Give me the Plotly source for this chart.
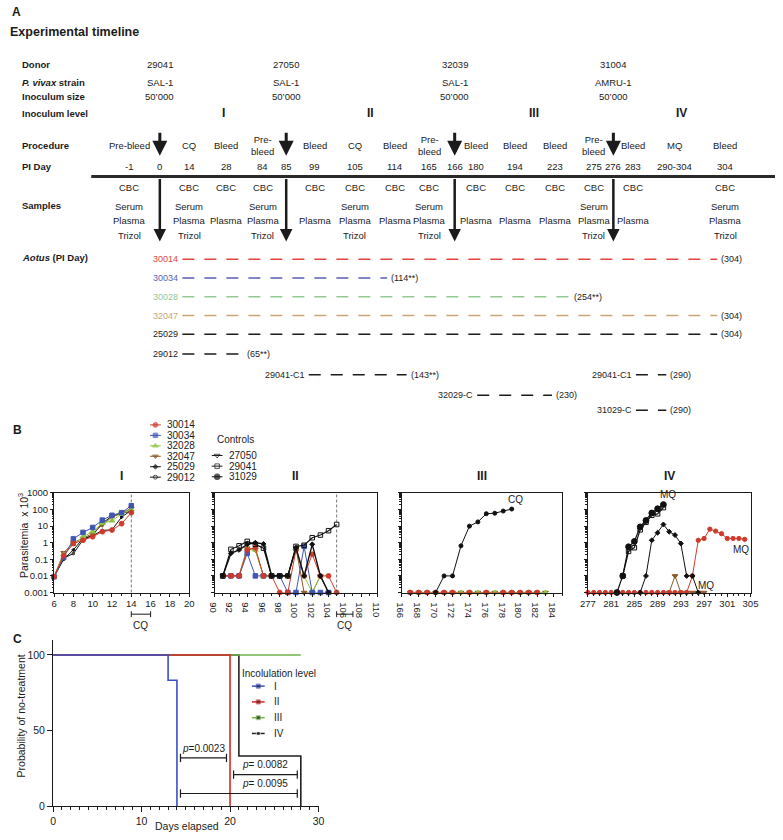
import numpy as np
import plotly.graph_objects as go

W, H = 783, 840
FONT = "Liberation Sans, Arial, Helvetica, sans-serif"
INK = "#1b1b1b"

# ---------------- A: experimental timeline ----------------
donors = ["29041", "27050", "32039", "31004"]
strains = ["SAL-1", "SAL-1", "SAL-1", "AMRU-1"]
inoculum_sizes = ["50’000", "50’000", "50’000", "50’000"]
inoculum_levels = ["I", "II", "III", "IV"]

pi_days = ["-1", "0", "14", "28", "84", "85", "99", "105", "114", "165", "166",
           "180", "194", "223", "275", "276", "283", "290-304", "304"]
procedures = ["Pre-bleed", "", "CQ", "Bleed", "Pre-<br>bleed", "", "Bleed", "CQ", "Bleed",
              "Pre-<br>bleed", "", "Bleed", "Bleed", "Bleed", "Pre-<br>bleed", "", "Bleed",
              "MQ", "Bleed"]
FULL = ["CBC", "Serum", "Plasma", "Trizol"]
SHORT = ["CBC", "Plasma"]
samples = [FULL, [], FULL, SHORT, FULL, [], SHORT, FULL, SHORT, FULL, [], SHORT, SHORT,
           SHORT, FULL, [], SHORT, [], FULL]

aotus_ids = ["30014", "30034", "30028", "32047", "25029", "29012",
             "29041-C1", "29041-C1", "32029-C", "31029-C"]
aotus_first_day = [0, 0, 0, 0, 0, 0, 85, 276, 166, 276]
aotus_last_day = [304, 114, 254, 304, 304, 65, 143, 290, 230, 290]
aotus_last_note = ["(304)", "(114**)", "(254**)", "(304)", "(304)", "(65**)",
                   "(143**)", "(290)", "(230)", "(290)"]

# ---------------- B: parasitemia (x10^3) ----------------
days_I = [6, 7, 8, 9, 10, 11, 12, 13, 14]
I_30014 = [0.009, 0.17, 0.9, 1.4, 2.3, 4.6, 5.8, 14, 65]
I_30034 = [0.009, 0.13, 1.7, 4.2, 8.3, 23, 45, 65, 170]
I_32028 = [0.009, 0.2, 0.8, 2.3, 4.6, 15, 21, 55, 100]
I_32047 = [0.009, 0.25, 1.0, 1.8, 3.5, 12, 35, 60, 120]
I_25029 = [0.009, 0.1, 0.37, 1.8, 2.6, 5.5, 6, 35, 90]
I_29012 = [0.009, 0.12, 0.22, 1.5, 2.8, 15, 40, 60, 80]

days_II = [91, 92, 93, 94, 95, 96, 97, 98, 99, 100, 101, 102, 103, 104, 105]
II_30014 = [0.01, 0.01, 0.01, 0.37, 0.5, 0.01, 0.01, 0.001, 0.001, 0.37, 0.01, 0.2, 0.01, 0.01, 0.001]
II_30034 = [0.01, 0.01, 0.01, 0.23, 0.01, 0.01, 0.01, 0.01, 0.001, 0.001, 0.6, 0.001, 0.001, 0.001, None]
II_32028 = [0.01, 0.01, 0.01, 0.47, 0.37, 0.01, 0.01, 0.01, 0.01, 0.47, 0.01, 0.001, 0.01, 0.001, None]
II_32047 = [0.01, 0.01, 0.01, 0.47, 0.37, 0.01, 0.01, 0.01, 0.01, 0.47, 0.001, 0.001, 0.01, 0.001, None]
II_25029 = [0.01, 0.23, 0.37, 0.8, 1.0, 0.85, 0.01, 0.01, 0.01, 0.5, 0.01, 0.8, 0.01, 0.001, None]
II_29041 = [0.01, 0.4, 0.65, 1.2, 0.8, 0.47, 0.01, 0.01, 0.01, 0.6, 0.7, 2.0, 2.9, 5.3, 12.6]

days_III = [167, 168, 169, 170, 171, 172, 173, 174, 175, 176, 177, 178, 179, 180, 181, 182, 183]
III_32028 = [0.001] * 17
III_32047 = [0.001] * 17
days_III_30014 = [167, 168, 169, 170, 171, 172, 174, 176, 178, 179, 180, 181, 182]
III_30014 = [0.001] * 13
days_III_ctrl = [170, 171, 172, 173, 174, 175, 176, 177, 178, 179]
III_ctrl = [0.001, 0.01, 0.01, 0.65, 10, 18, 56, 60, 81, 107]

days_IV_31029 = [282, 283, 284, 285, 286, 287, 288, 289, 290]
IV_31029 = [0.001, 0.01, 0.57, 1.2, 9, 22, 62, 112, 200]
days_IV_29041 = [283, 284, 285, 286, 287, 288, 289, 290]
IV_29041 = [0.01, 0.3, 0.5, 6, 17, 45, 55, 130]
days_IV_25029 = [286, 287, 288, 289, 290, 291, 292, 293, 294, 295, 296]
IV_25029 = [0.001, 0.01, 1.4, 4, 12.6, 4.6, 2.9, 0.9, 0.01, 0.01, 0.001]
days_IV_30014 = list(range(277, 305))
IV_30014 = [0.001] * 18 + [0.01, 1.4, 1.8, 6.6, 5, 3.5, 1.8, 1.8, 1.8, 1.6]
days_IV_32047 = [291, 292, 293, 294, 295, 296, 297]
IV_32047 = [0.001, 0.01, 0.001, 0.001, 0.001, 0.001, 0.001]

legend_exp = ["30014", "30034", "32028", "32047", "25029", "29012"]
legend_ctrl = ["27050", "29041", "31029"]

# ---------------- C: probability of no-treatment ----------------
km_levels = ["I", "II", "III", "IV"]
km_days = [[0, 13, 14], [0, 20], [0, 28], [0, 21, 28]]
km_prob = [[100, 83.3, 0], [100, 0], [100, 100], [100, 33.3, 0]]
p_labels = ["<i>p</i>=0.0023", "<i>p</i>= 0.0082", "<i>p</i>= 0.0095"]
p_from = [14.4, 20.4, 14.4]
p_to = [19.6, 27.6, 27.6]

# ---------------- styles / layout constants ----------------
styles = {
    "30014": dict(color="#cf3a2c", symbol="circle", size=4.8),
    "30034": dict(color="#3f56b4", symbol="square", size=4.5),
    "32028": dict(color="#8cc440", symbol="triangle-up", size=5),
    "32047": dict(color="#8b5a2b", symbol="triangle-down", size=5),
    "25029": dict(color="#111111", symbol="diamond", size=3.8),
    "29012": dict(color="#111111", symbol="circle-open", size=4),
    "27050": dict(color="#111111", symbol="triangle-down-open", size=5),
    "29041": dict(color="#111111", symbol="square-open", size=4.5),
    "31029": dict(color="#111111", symbol="circle", size=5.8),
    "ctrl": dict(color="#111111", symbol="circle", size=4),
}
km_colors = ["#3b4fc2", "#d42a2a", "#72b34a", "#222222"]

col_x = [124, 155, 185, 223, 260, 284, 313, 354, 395, 430, 456, 478, 518, 558, 598, 618, 638, 680, 732]
sample_y = {"CBC": 184, "Serum": 203, "Plasma": 218, "Trizol": 233}
aotus_y = [257, 276, 295, 314, 333, 353, 374, 374, 395, 410]
aotus_color = ["#e3463f", "#5b5fb3", "#93c993", "#cba576"] + [INK] * 6

day_num = [float(d.split("-")[0]) if "-" in d[1:] else float(d) for d in pi_days]


def day_x(d):
    return float(np.interp(d, day_num, col_x))


fig = go.Figure()
annotations = []
shapes = []


def text(x, y, s, size=9.5, bold=False, color=INK, xanchor="center", yanchor="middle", ref=("x6", "y6"), angle=0):
    if bold:
        s = f"<b>{s}</b>"
    annotations.append(dict(x=x, y=y, xref=ref[0], yref=ref[1], text=s, showarrow=False,
                            textangle=angle, font=dict(size=size, color=color, family=FONT),
                            xanchor=xanchor, yanchor=yanchor))


def overlay_line(xs, ys, color=INK, width=1.5, dash="solid", sizes=None, sty=None):
    marker = dict(size=0)
    mode = "lines"
    if sty is not None:
        mode = "lines+markers"
        marker = dict(symbol=sty["symbol"], size=sizes, color=sty["color"], line=dict(width=1, color=sty["color"]))
    fig.add_trace(go.Scatter(x=xs, y=ys, xaxis="x6", yaxis="y6", mode=mode, marker=marker,
                             line=dict(color=color, width=width, dash=dash), cliponaxis=False,
                             hoverinfo="skip", showlegend=False))


# panel A text
text(2, 6, "A", size=12, bold=True, xanchor="left")
text(0, 26, "Experimental timeline", size=12.5, bold=True, xanchor="left")
row_labels = [(59, "Donor"), (78, "<i>P. vivax</i> strain"), (92, "Inoculum size"),
              (109, "Inoculum level"), (142, "Procedure"), (163, "PI Day"), (202, "Samples"),
              (255, "<i>Aotus</i> (PI Day)")]
for yy, lab in row_labels:
    text(12, yy, lab, bold=True, xanchor="left")

arrow_cols = [i for i, p in enumerate(procedures) if p == ""]
for k, ci in enumerate(arrow_cols):
    x = col_x[ci]
    text(x, 59, donors[k])
    text(x, 78, strains[k])
    text(x, 92, inoculum_sizes[k])
    nxt = col_x[arrow_cols[k + 1]] if k + 1 < len(arrow_cols) else 757
    text((x + nxt) / 2, 109, inoculum_levels[k], size=12, bold=True)
    annotations.append(dict(x=x, y=152, ax=x, ay=127, xref="x6", yref="y6", axref="x6", ayref="y6",
                            text="", showarrow=True, arrowhead=2, arrowsize=1, arrowwidth=3,
                            arrowcolor=INK, standoff=0, startstandoff=0))
    annotations.append(dict(x=x, y=239, ax=x, ay=174, xref="x6", yref="y6", axref="x6", ayref="y6",
                            text="", showarrow=True, arrowhead=2, arrowsize=1, arrowwidth=2.5,
                            arrowcolor=INK, standoff=0, startstandoff=0))

for i, x in enumerate(col_x):
    text(x, 163, pi_days[i])
    if procedures[i]:
        text(x, 142, procedures[i])
    for s in samples[i]:
        text(x, sample_y[s], s)

shapes.append(dict(type="line", xref="x6", yref="y6", x0=85, x1=783, y0=173, y1=173,
                   line=dict(color="#2a2a2a", width=3)))

for i, aid in enumerate(aotus_ids):
    xs = day_x(aotus_first_day[i]) + 23
    xe = day_x(aotus_last_day[i]) - 8
    yy = aotus_y[i]
    overlay_line([xs, xe], [yy, yy], color=aotus_color[i], width=1.5, dash="12px,10px")
    text(xs - 2, yy, aid, size=9, color=aotus_color[i], xanchor="right")
    text(xe + 2, yy, aotus_last_note[i], size=9, xanchor="left")

# ---------------- panel B ----------------
text(3, 430, "B", size=12, bold=True, xanchor="left")
for i, sid in enumerate(legend_exp):
    yy = 425 + 10.6 * i
    overlay_line([145, 150.5, 156], [yy] * 3, color=styles[sid]["color"], width=1,
                 sizes=[0, styles[sid]["size"], 0], sty=styles[sid])
    text(160, yy, sid, size=10, xanchor="left")
text(232, 440, "Controls", size=10)
for i, sid in enumerate(legend_ctrl):
    yy = 456 + 10.8 * i
    overlay_line([208, 213.5, 219], [yy] * 3, color=INK, width=1,
                 sizes=[0, styles[sid]["size"], 0], sty=styles[sid])
    text(224, yy, sid, size=10, xanchor="left")


def add_series(ax, days, values, sid, width=1.0, size=None):
    st = styles[sid]
    fig.add_trace(go.Scatter(
        x=days, y=values, mode="lines+markers", xaxis=ax[0], yaxis=ax[1],
        line=dict(color=st["color"], width=width),
        marker=dict(symbol=st["symbol"], size=size or st["size"], color=st["color"],
                    line=dict(width=1, color=st["color"])),
        cliponaxis=False, showlegend=False, hoverinfo="skip"))


A1, A2, A3, A4 = ("x", "y"), ("x2", "y2"), ("x3", "y3"), ("x4", "y4")
add_series(A1, days_I, I_29012, "29012", size=2.5)
add_series(A1, days_I, I_25029, "25029", size=2.5)
add_series(A1, days_I, I_32047, "32047")
add_series(A1, days_I, I_32028, "32028")
add_series(A1, days_I, I_30034, "30034")
add_series(A1, days_I, I_30014, "30014")

add_series(A2, days_II, II_32047, "32047")
add_series(A2, days_II, II_32028, "32028")
add_series(A2, days_II, II_30034, "30034")
add_series(A2, days_II, II_30014, "30014")
add_series(A2, days_II, II_25029, "25029", width=1.4)
add_series(A2, days_II, II_29041, "29041", width=1.2)

add_series(A3, days_III, III_32047, "32047")
add_series(A3, days_III, III_32028, "32028")
add_series(A3, days_III_30014, III_30014, "30014")
add_series(A3, days_III_ctrl, III_ctrl, "ctrl")

add_series(A4, days_IV_32047, IV_32047, "32047")
add_series(A4, days_IV_30014, IV_30014, "30014", size=4.3)
add_series(A4, days_IV_25029, IV_25029, "25029")
add_series(A4, days_IV_29041, IV_29041, "29041", width=1.2)
add_series(A4, days_IV_31029, IV_31029, "31029", width=1.2)

b_boxes = [(47, 185, [6, 20], 2, 6), (211, 377, [90, 110], 2, 90),
           (402, 566, [166, 185], 2, 166), (592, 758, [277, 305], 4, 277)]
B_TOP, B_BOT = 494, 595
major_vals = [0.001, 0.01, 0.1, 1, 10, 100, 1000]
major_text = ["0.001", "0.01", "0.1", "1", "10", "100", "1000"]
minor_vals = [m * 10.0 ** e for e in range(-3, 3) for m in range(2, 10)]
tickfont = dict(size=9.5, family=FONT, color=INK)
roman = ["I", "II", "III", "IV"]

layout_axes = {}
for n, (x0, x1, rng, dt, t0) in enumerate(b_boxes, start=1):
    sx = "" if n == 1 else str(n)
    layout_axes[f"xaxis{sx}"] = dict(
        domain=[x0 / W, x1 / W], range=rng, anchor=f"y{sx}", dtick=dt, tick0=t0,
        ticks="outside", ticklen=3, tickwidth=1, tickcolor=INK, ticklabelstandoff=-1,
        minor=dict(dtick=1, tick0=t0, ticks="outside", ticklen=2, tickcolor=INK),
        showline=True, linecolor=INK, linewidth=1, mirror=True, showgrid=False,
        zeroline=False, tickfont=tickfont, fixedrange=True)
    layout_axes[f"yaxis{sx}"] = dict(
        domain=[1 - B_BOT / H, 1 - B_TOP / H], type="log", range=[-3, 3], anchor=f"x{sx}",
        tickmode="array", tickvals=major_vals, ticktext=major_text, showticklabels=(n == 1),
        ticks="outside", ticklen=3, tickcolor=INK,
        minor=dict(tickmode="array", tickvals=minor_vals, ticks="outside", ticklen=1.5, tickcolor=INK),
        showline=True, linecolor=INK, linewidth=1, mirror=True, showgrid=False,
        zeroline=False, tickfont=tickfont, fixedrange=True)
    text((x0 + x1) / 2, 477, roman[n - 1], size=12, bold=True)

text(15, 537, "Parasitemia  x 10<sup>3</sup>", size=10.5, angle=-90)

# treatment marks in panel B
for ax, day in (("x", 14), ("x2", 105)):
    shapes.append(dict(type="line", xref=ax, yref="paper", x0=day, x1=day,
                       y0=1 - B_BOT / H, y1=1 - B_TOP / H,
                       line=dict(color="#555555", width=0.8, dash="3px,2px")))
    yb = 1 - 617 / H
    shapes.append(dict(type="line", xref=ax, yref="paper", x0=day, x1=day + 2, y0=yb, y1=yb,
                       line=dict(color=INK, width=1)))
    for xx in (day, day + 2):
        shapes.append(dict(type="line", xref=ax, yref="paper", x0=xx, x1=xx,
                           y0=yb - 3 / H, y1=yb + 3 / H, line=dict(color=INK, width=1)))
    text(day + 1, 1 - 628 / H, "CQ", size=10, ref=(ax, "paper"))

text(179.5, 2.62, "CQ", size=10, ref=("x3", "y3"))
text(290.8, 2.88, "MQ", size=10, ref=("x4", "y4"))
text(303.3, -0.4, "MQ", size=10, ref=("x4", "y4"))
text(297.4, -2.55, "MQ", size=10, ref=("x4", "y4"))

# ---------------- panel C ----------------
text(3, 642, "C", size=12, bold=True, xanchor="left")
for i in (3, 2, 1, 0):
    fig.add_trace(go.Scatter(x=km_days[i], y=km_prob[i], xaxis="x5", yaxis="y5", mode="lines",
                             line=dict(color=km_colors[i], width=1.6, shape="hv"),
                             cliponaxis=False, showlegend=False, hoverinfo="skip"))
p_heights = [32, 21, 8.5]
p_text_x = [17.0, 24.0, 24.0]
for i, lab in enumerate(p_labels):
    fig.add_trace(go.Scatter(x=[p_from[i], p_to[i]], y=[p_heights[i]] * 2, xaxis="x5", yaxis="y5",
                             mode="lines+markers", line=dict(color=INK, width=1.2),
                             marker=dict(symbol="line-ns-open", size=6, line=dict(width=1.2, color=INK)),
                             cliponaxis=False, showlegend=False, hoverinfo="skip"))
    text(p_text_x[i], p_heights[i] + 1.5, lab, size=10, yanchor="bottom", ref=("x5", "y5"))

text(277, 677, "Incolulation level", size=10)
for i, lev in enumerate(km_levels):
    yy = 690 + 16 * i
    fig.add_trace(go.Scatter(x=[249, 255.5, 262], y=[yy] * 3, xaxis="x6", yaxis="y6",
                             mode="lines+markers", line=dict(color=km_colors[i], width=1.5),
                             marker=dict(symbol="square", size=[0, 4, 0], color="#222222"),
                             cliponaxis=False, showlegend=False, hoverinfo="skip"))
    text(270, yy, lev, size=10, xanchor="left")

text(13, 720, "Probability of no-treatment", size=10.5, angle=-90)
text(183, 832, "Days elapsed", size=10.5)

layout_axes["xaxis5"] = dict(
    domain=[46 / W, 317 / W], range=[0, 30], anchor="y5", dtick=10, ticks="outside", ticklen=5,
    tickcolor=INK, minor=dict(dtick=1, ticks="outside", ticklen=3, tickcolor=INK),
    showline=True, linecolor=INK, linewidth=1, showgrid=False, zeroline=False,
    tickfont=dict(size=10.5, family=FONT, color=INK), fixedrange=True)
layout_axes["yaxis5"] = dict(
    domain=[1 - 812 / H, 1 - 643 / H], range=[0, 110], anchor="x5", tickmode="array",
    tickvals=[0, 50, 100], ticks="outside", ticklen=5, tickcolor=INK,
    showline=True, linecolor=INK, linewidth=1, showgrid=False, zeroline=False,
    tickfont=dict(size=10.5, family=FONT, color=INK), fixedrange=True)

# full-page overlay in pixel units for the schematic parts
layout_axes["xaxis6"] = dict(domain=[0, 1], range=[0, W], anchor="y6", visible=False, fixedrange=True)
layout_axes["yaxis6"] = dict(domain=[0, 1], range=[H, 0], anchor="x6", visible=False, fixedrange=True)

fig.update_layout(
    width=W, height=H, margin=dict(l=0, r=0, t=0, b=0),
    paper_bgcolor="white", plot_bgcolor="rgba(0,0,0,0)", showlegend=False,
    font=dict(family=FONT, color=INK), annotations=annotations, shapes=shapes,
    **layout_axes)

fig.write_html("out.html", config={"displayModeBar": False},
               post_script="document.body.style.margin='0px';")
